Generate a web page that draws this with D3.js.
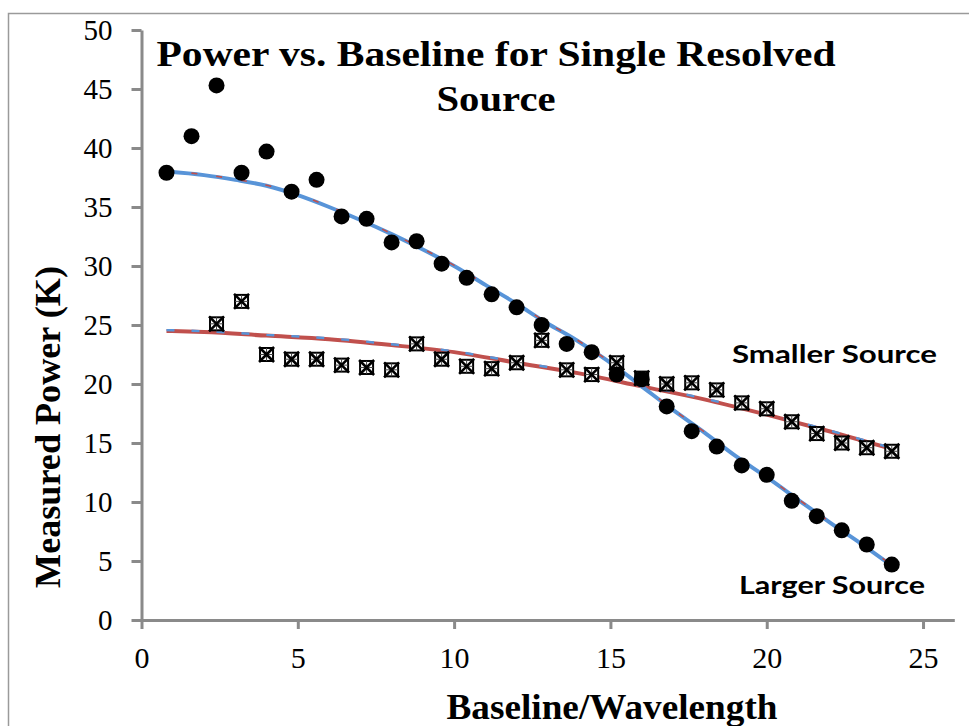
<!DOCTYPE html>
<html>
<head>
<meta charset="utf-8">
<script src="https://cdn.jsdelivr.net/npm/d3@7"></script>
<style>
  body { margin: 0; background: #fff; }
  svg { display: block; }
</style>
</head>
<body>
<svg id="chart" width="969" height="726"></svg>
<script>
// baseline positions (same for both sources)
const baselines = [0.8, 1.6, 2.4, 3.2, 4.0, 4.8, 5.6, 6.4, 7.2, 8.0, 8.8, 9.6, 10.4, 11.2, 12.0,
                   12.8, 13.6, 14.4, 15.2, 16.0, 16.8, 17.6, 18.4, 19.2, 20.0, 20.8, 21.6, 22.4, 23.2, 24.0];

// measured power, larger source (circles)
const largerPower = [37.9, 41.0, 45.3, 37.9, 39.7, 36.3, 37.3, 34.2, 34.0, 32.0, 32.1, 30.2, 29.0, 27.6, 26.5,
                     25.0, 23.4, 22.7, 20.8, 20.4, 18.1, 16.0, 14.7, 13.1, 12.3, 10.1, 8.8, 7.6, 6.4, 4.7];

// measured power, smaller source (boxed crosses) - no points at 0.8 and 1.6
const smallerPower = [null, null, 25.1, 27.0, 22.5, 22.1, 22.1, 21.6, 21.4, 21.2, 23.4, 22.1, 21.5, 21.3, 21.8,
                      23.7, 21.2, 20.8, 21.8, 20.5, 20.0, 20.1, 19.5, 18.4, 17.9, 16.8, 15.8, 15.0, 14.6, 14.3];

// fitted curves
const largerFitX = [0.8, 2, 3, 4, 5, 6, 7, 8, 9, 10, 11, 12, 13, 13.8, 14.5, 15, 16, 17, 18, 19, 20, 21, 22, 23, 24];
const largerFitY = [38.0, 37.7, 37.3, 36.8, 36.0, 35.0, 33.9, 32.7, 31.4, 30.0, 28.4, 26.8, 25.1, 23.9, 22.7,
                    21.8, 19.8, 17.8, 15.9, 13.9, 12.1, 10.2, 8.3, 6.5, 4.6];
const smallerFitX = [0.8, 2, 4, 6, 8, 10, 12, 14, 16, 18, 20, 22, 24];
const smallerFitY = [24.5, 24.4, 24.1, 23.8, 23.3, 22.7, 21.8, 20.9, 19.8, 18.7, 17.4, 16.0, 14.5];

const xTicks = [0, 5, 10, 15, 20, 25];
const yTicks = [0, 5, 10, 15, 20, 25, 30, 35, 40, 45, 50];

const blue = "#5894d8";
const red = "#c0504d";
const axisGray = "#8a8a8a";

const svg = d3.select("#chart");

// outer frame
svg.append("path")
    .attr("d", "M8.5,726 L8.5,13.5 L969,13.5")
    .attr("fill", "none")
    .attr("stroke", "#9a9a9a")
    .attr("stroke-width", 1.5);

const x = d3.scaleLinear().domain([0, 26]).range([141.5, 954.3]);
const y = d3.scaleLinear().domain([0, 50]).range([620, 30]);

// axes
const xAxis = svg.append("g")
    .attr("transform", "translate(0,620)")
    .call(d3.axisBottom(x).tickValues(xTicks).tickSize(9).tickSizeOuter(0).tickFormat(d3.format("d")));
xAxis.selectAll("text")
    .attr("dy", null)
    .attr("y", 48)
    .style("font-family", "'Liberation Serif', 'Times New Roman', serif")
    .style("font-size", "30px")
    .attr("fill", "#000");

const yAxis = svg.append("g")
    .attr("transform", "translate(141.5,0)")
    .call(d3.axisLeft(y).tickValues(yTicks).tickSize(10).tickSizeOuter(0).tickFormat(d3.format("d")));
yAxis.selectAll("text")
    .attr("x", -29)
    .attr("dy", "0.34em")
    .style("font-family", "'Liberation Serif', 'Times New Roman', serif")
    .style("font-size", "29px")
    .attr("fill", "#000");

svg.selectAll(".domain, .tick line")
    .attr("stroke", axisGray)
    .attr("stroke-width", 3);

// fitted curves
const line = d3.line()
    .x(d => x(d[0]))
    .y(d => y(d[1]))
    .curve(d3.curveMonotoneX);

const largerFit = largerFitX.map((v, i) => [v, largerFitY[i]]);
const smallerFit = smallerFitX.map((v, i) => [v, smallerFitY[i]]);

svg.append("path").datum(smallerFit)
    .attr("d", line).attr("fill", "none")
    .attr("stroke", red).attr("stroke-width", 4);
svg.append("path").datum(smallerFit)
    .attr("d", line).attr("fill", "none")
    .attr("transform", "translate(0,-0.8)")
    .attr("stroke", blue).attr("stroke-width", 2.4)
    .attr("stroke-dasharray", "8,17");

svg.append("path").datum(largerFit)
    .attr("d", line).attr("fill", "none")
    .attr("stroke", blue).attr("stroke-width", 4);
svg.append("path").datum(largerFit)
    .attr("d", line).attr("fill", "none")
    .attr("transform", "translate(0,-0.6)")
    .attr("stroke", red).attr("stroke-width", 1.6)
    .attr("stroke-dasharray", "6,19");

// smaller source markers: box with cross and plus
const smallPts = baselines.map((b, i) => [b, smallerPower[i]]).filter(d => d[1] != null);
const mk = svg.append("g").selectAll("g")
    .data(smallPts)
    .enter()
    .append("g")
    .attr("transform", d => `translate(${x(d[0])},${y(d[1])})`);
const s = 6.5;
mk.append("rect")
    .attr("x", -s).attr("y", -s).attr("width", 2 * s).attr("height", 2 * s)
    .attr("fill", "#fff").attr("stroke", "#000").attr("stroke-width", 2);
mk.append("path")
    .attr("d", `M${-s},0L${s},0M0,${-s}L0,${s}`)
    .attr("stroke", "#444").attr("stroke-width", 1);
mk.append("path")
    .attr("d", `M${-s - 1},${-s - 1}L${s + 1},${s + 1}M${s + 1},${-s - 1}L${-s - 1},${s + 1}`)
    .attr("stroke", "#000").attr("stroke-width", 2.6);

// larger source markers
svg.append("g").selectAll("circle")
    .data(baselines.map((b, i) => [b, largerPower[i]]))
    .enter()
    .append("circle")
    .attr("cx", d => x(d[0]))
    .attr("cy", d => y(d[1]))
    .attr("r", 8)
    .attr("fill", "#000");

// titles
const serif = "'Liberation Serif', 'Times New Roman', serif";
svg.append("text")
    .attr("x", 496).attr("y", 66)
    .attr("text-anchor", "middle")
    .attr("textLength", 679).attr("lengthAdjust", "spacingAndGlyphs")
    .style("font-family", serif).style("font-weight", "bold").style("font-size", "36px")
    .text("Power vs. Baseline for Single Resolved");
svg.append("text")
    .attr("x", 496).attr("y", 111)
    .attr("text-anchor", "middle")
    .attr("textLength", 119).attr("lengthAdjust", "spacingAndGlyphs")
    .style("font-family", serif).style("font-weight", "bold").style("font-size", "36px")
    .text("Source");

svg.append("text")
    .attr("x", 612).attr("y", 719)
    .attr("text-anchor", "middle")
    .attr("textLength", 331).attr("lengthAdjust", "spacingAndGlyphs")
    .style("font-family", serif).style("font-weight", "bold").style("font-size", "35px")
    .text("Baseline/Wavelength");

svg.append("text")
    .attr("transform", "translate(60,427) rotate(-90)")
    .attr("text-anchor", "middle")
    .attr("textLength", 322).attr("lengthAdjust", "spacingAndGlyphs")
    .style("font-family", serif).style("font-weight", "bold").style("font-size", "35px")
    .text("Measured Power (K)");

// series labels
const sans = "Lato, 'Open Sans', sans-serif";
svg.append("text")
    .attr("x", 732).attr("y", 363)
    .attr("textLength", 205).attr("lengthAdjust", "spacingAndGlyphs")
    .style("font-family", sans).style("font-weight", "bold").style("font-size", "25px")
    .text("Smaller Source");
svg.append("text")
    .attr("x", 739).attr("y", 594)
    .attr("textLength", 186).attr("lengthAdjust", "spacingAndGlyphs")
    .style("font-family", sans).style("font-weight", "bold").style("font-size", "25px")
    .text("Larger Source");
</script>
</body>
</html>
